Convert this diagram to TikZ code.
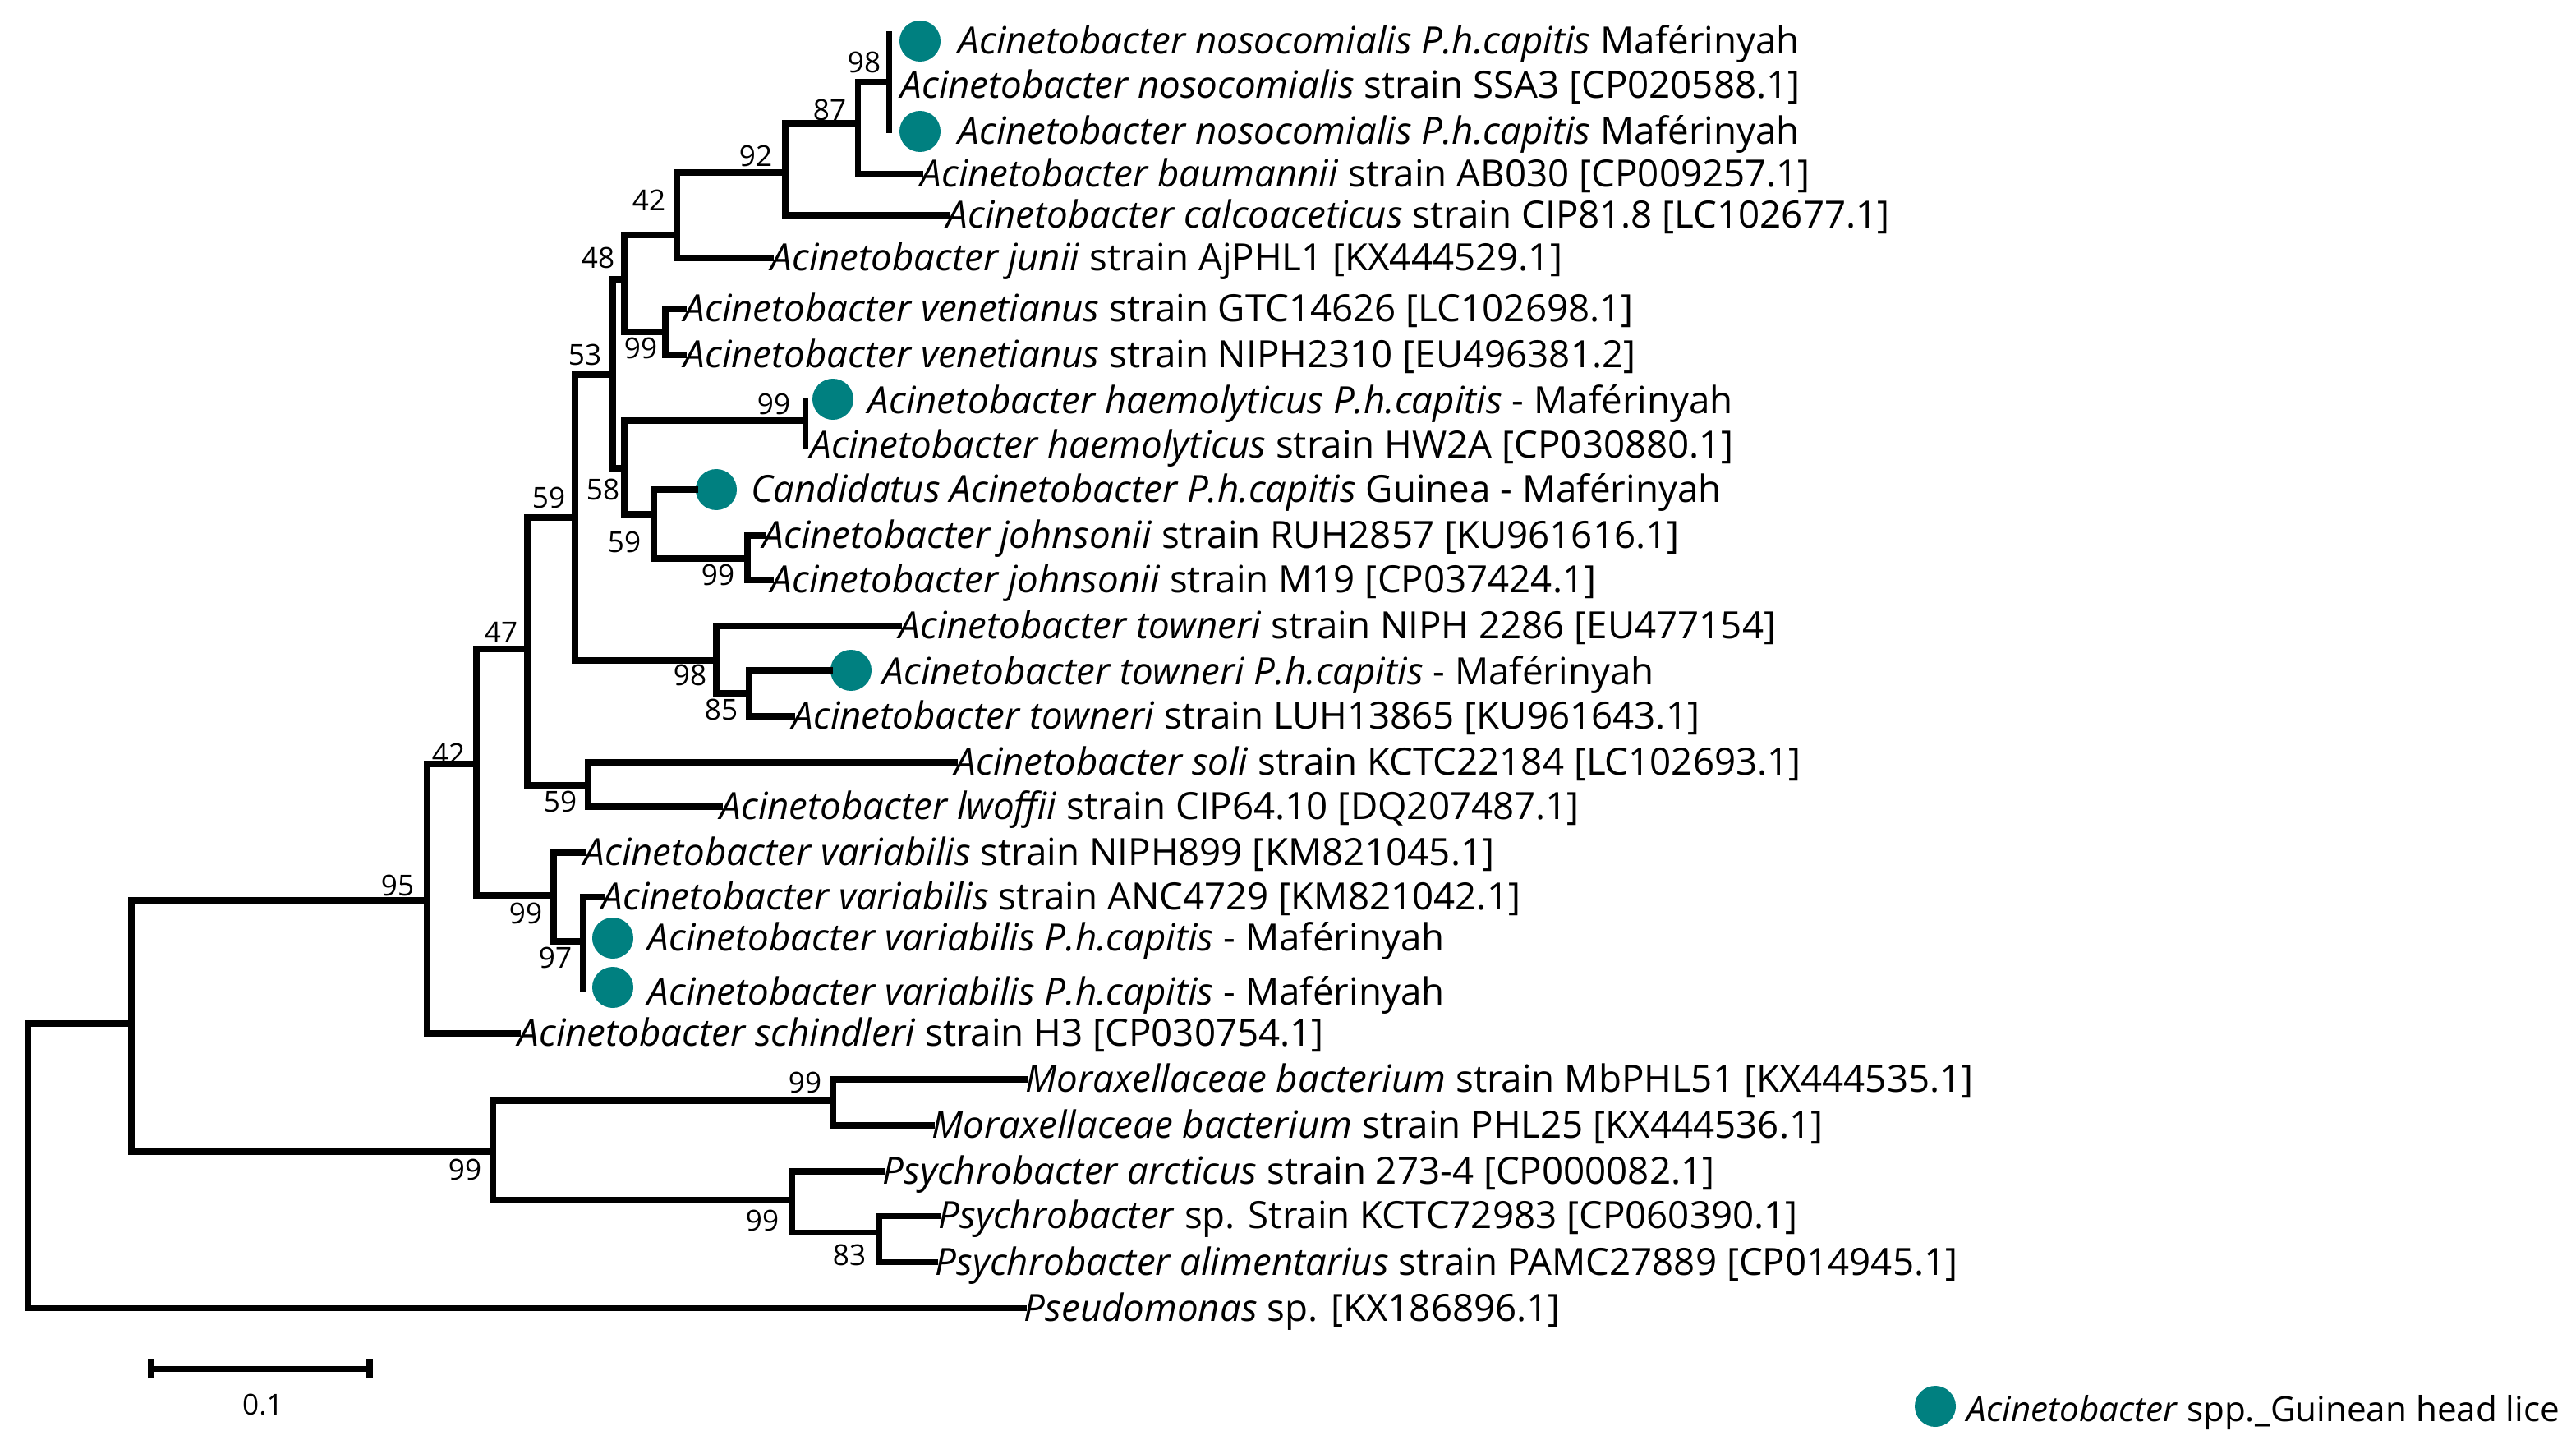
\documentclass[tikz,border=0pt]{standalone}
\usepackage{fontspec}
\setmainfont{Open Sans}
\usepackage{tikz}
\usetikzlibrary{positioning}
\definecolor{liceteal}{RGB}{0,128,128}
\newcommand{\gn}[1]{\textit{#1}}

\begin{document}
\begin{tikzpicture}[x=0.02cm,y=-0.02cm]
		\tikzstyle{branch}=[line width=2pt, line cap=rect]
		\tikzstyle{leaf}=[anchor=west, inner sep=0pt, text height=2ex, text depth=.3ex, font=\fontsize{13}{15}\selectfont]
		\tikzstyle{dot}=[circle, fill=liceteal, minimum size=0.5cm, inner sep=0pt]
		\tikzstyle{boot}=[inner sep=0pt, font=\fontsize{10}{12}\selectfont]

		\useasboundingbox (0,0) rectangle (1568,885);

		% inner nodes of the tree
		\coordinate (root) at (17,700);
		\coordinate (n1) at (80,623);
		\coordinate (n95) at (260,548);
		\coordinate (n42) at (290,465);
		\coordinate (n47) at (321,395);
		\coordinate (n59s) at (358,478);
		\coordinate (n59t) at (350,315);
		\coordinate (ntow) at (436,402);
		\coordinate (n85) at (456,422);
		\coordinate (n53) at (373,228);
		\coordinate (n48) at (380,170);
		\coordinate (nven) at (405,202);
		\coordinate (n42b) at (412,143);
		\coordinate (n92) at (478,105);
		\coordinate (n87) at (522,75);
		\coordinate (n98) at (541,50);
		\coordinate (n58) at (380,285);
		\coordinate (nhae) at (490,256);
		\coordinate (n59b) at (398,313);
		\coordinate (njoh) at (455,340);
		\coordinate (n99v) at (337,545);
		\coordinate (n97) at (355,573);
		\coordinate (n99l) at (300,701);
		\coordinate (nmor) at (507,670);
		\coordinate (npsy) at (482,730);
		\coordinate (n83) at (535,750);

		% leaves
		\node [dot] (d1) at (560,25) {};
		\node [leaf] (l1) at (583,25) {\gn{Acinetobacter nosocomialis P.h.capitis} Maférinyah};
		\node [leaf] (l2) at (548,52) {\gn{Acinetobacter nosocomialis} strain SSA3 [CP020588.1]};
		\node [dot] (d3) at (560,80) {};
		\node [leaf] (l3) at (583,80) {\gn{Acinetobacter nosocomialis P.h.capitis} Maférinyah};
		\node [leaf] (l4) at (560,106) {\gn{Acinetobacter baumannii} strain AB030 [CP009257.1]};
		\node [leaf] (l5) at (576,131) {\gn{Acinetobacter calcoaceticus} strain CIP81.8 [LC102677.1]};
		\node [leaf] (l6) at (469,157) {\gn{Acinetobacter junii} strain AjPHL1 [KX444529.1]};
		\node [leaf] (l7) at (416,188) {\gn{Acinetobacter venetianus} strain GTC14626 [LC102698.1]};
		\node [leaf] (l8) at (416,216) {\gn{Acinetobacter venetianus} strain NIPH2310 [EU496381.2]};
		\node [dot] (d9) at (507,243) {};
		\node [leaf] (l9) at (528,244) {\gn{Acinetobacter haemolyticus P.h.capitis} - Maférinyah};
		\node [leaf] (l10) at (493,271) {\gn{Acinetobacter haemolyticus} strain HW2A [CP030880.1]};
		\node [dot] (d11) at (436,298) {};
		\node [leaf] (l11) at (457,298) {\gn{Candidatus Acinetobacter P.h.capitis} Guinea - Maférinyah};
		\node [leaf] (l12) at (464,326) {\gn{Acinetobacter johnsonii} strain RUH2857 [KU961616.1]};
		\node [leaf] (l13) at (469,353) {\gn{Acinetobacter johnsonii} strain M19 [CP037424.1]};
		\node [leaf] (l14) at (547,381) {\gn{Acinetobacter towneri} strain NIPH 2286 [EU477154]};
		\node [dot] (d15) at (518,408) {};
		\node [leaf] (l15) at (537,409) {\gn{Acinetobacter towneri P.h.capitis} - Maférinyah};
		\node [leaf] (l16) at (482,436) {\gn{Acinetobacter towneri} strain LUH13865 [KU961643.1]};
		\node [leaf] (l17) at (581,464) {\gn{Acinetobacter soli} strain KCTC22184 [LC102693.1]};
		\node [leaf] (l18) at (438,491) {\gn{Acinetobacter lwoffii} strain CIP64.10 [DQ207487.1]};
		\node [leaf] (l19) at (355,519) {\gn{Acinetobacter variabilis} strain NIPH899 [KM821045.1]};
		\node [leaf] (l20) at (366,546) {\gn{Acinetobacter variabilis} strain ANC4729 [KM821042.1]};
		\node [dot] (d21) at (373,571) {};
		\node [leaf] (l21) at (394,571) {\gn{Acinetobacter variabilis P.h.capitis} - Maférinyah};
		\node [dot] (d22) at (373,601) {};
		\node [leaf] (l22) at (394,604) {\gn{Acinetobacter variabilis P.h.capitis} - Maférinyah};
		\node [leaf] (l23) at (315,629) {\gn{Acinetobacter schindleri} strain H3 [CP030754.1]};
		\node [leaf] (l24) at (624,657) {\gn{Moraxellaceae bacterium} strain MbPHL51 [KX444535.1]};
		\node [leaf] (l25) at (567,685) {\gn{Moraxellaceae bacterium} strain PHL25 [KX444536.1]};
		\node [leaf] (l26) at (537,713) {\gn{Psychrobacter arcticus} strain 273-4 [CP000082.1]};
		\node [leaf] (l27) at (571,740) {\gn{Psychrobacter} sp. Strain KCTC72983 [CP060390.1]};
		\node [leaf] (l28) at (569,768) {\gn{Psychrobacter alimentarius} strain PAMC27889 [CP014945.1]};
		\node [leaf] (l29) at (623,796) {\gn{Pseudomonas} sp. [KX186896.1]};

		% branches
		\draw [branch] (root) |- (n1);
		\draw [branch] (root) |- (l29.west);
		\draw [branch] (n1) |- (n95);
		\draw [branch] (n1) |- (n99l);
		\draw [branch] (n95) |- (n42);
		\draw [branch] (n95) |- (l23.west);
		\draw [branch] (n42) |- (n47);
		\draw [branch] (n42) |- (n99v);
		\draw [branch] (n47) |- (n59t);
		\draw [branch] (n47) |- (n59s);
		\draw [branch] (n59s) |- (l17.west);
		\draw [branch] (n59s) |- (l18.west);
		\draw [branch] (n59t) |- (n53);
		\draw [branch] (n59t) |- (ntow);
		\draw [branch] (ntow) |- (l14.west);
		\draw [branch] (ntow) |- (n85);
		\draw [branch] (n85) |- (d15.west);
		\draw [branch] (n85) |- (l16.west);
		\draw [branch] (n53) |- (n48);
		\draw [branch] (n53) |- (n58);
		\draw [branch] (n48) |- (n42b);
		\draw [branch] (n48) |- (nven);
		\draw [branch] (nven) |- (l7.west);
		\draw [branch] (nven) |- (l8.west);
		\draw [branch] (n42b) |- (n92);
		\draw [branch] (n42b) |- (l6.west);
		\draw [branch] (n92) |- (n87);
		\draw [branch] (n92) |- (l5.west);
		\draw [branch] (n87) |- (n98);
		\draw [branch] (n87) |- (l4.west);
		\draw [branch] (n98) -- (541,21);
		\draw [branch] (n98) -- (541,79);
		\draw [branch] (n58) |- (nhae);
		\draw [branch] (n58) |- (n59b);
		\draw [branch] (nhae) -- (490,244);
		\draw [branch] (nhae) -- (490,271);
		\draw [branch] (n59b) |- (d11.west);
		\draw [branch] (n59b) |- (njoh);
		\draw [branch] (njoh) |- (l12.west);
		\draw [branch] (njoh) |- (l13.west);
		\draw [branch] (n99v) |- (l19.west);
		\draw [branch] (n99v) |- (n97);
		\draw [branch] (n97) |- (l20.west);
		\draw [branch] (n97) -- (355,602);
		\draw [branch] (n99l) |- (nmor);
		\draw [branch] (n99l) |- (npsy);
		\draw [branch] (nmor) |- (l24.west);
		\draw [branch] (nmor) |- (l25.west);
		\draw [branch] (npsy) |- (l26.west);
		\draw [branch] (npsy) |- (n83);
		\draw [branch] (n83) |- (l27.west);
		\draw [branch] (n83) |- (l28.west);

		% bootstrap values
		\node [boot] (b95) at (242,539) {95};
		\node [boot] (b99l) at (283,712) {99};
		\node [boot] (b42) at (273,459) {42};
		\node [boot] (b47) at (305,385) {47};
		\node [boot] (b99v) at (320,556) {99};
		\node [boot] (b97) at (338,583) {97};
		\node [boot] (b59t) at (334,303) {59};
		\node [boot] (b59s) at (341,488) {59};
		\node [boot] (b53) at (356,216) {53};
		\node [boot] (b98t) at (420,411) {98};
		\node [boot] (b85) at (439,432) {85};
		\node [boot] (b48) at (364,157) {48};
		\node [boot] (b58) at (367,298) {58};
		\node [boot] (b99ven) at (390,212) {99};
		\node [boot] (b42b) at (395,122) {42};
		\node [boot] (b92) at (460,95) {92};
		\node [boot] (b87) at (505,67) {87};
		\node [boot] (b98) at (526,38) {98};
		\node [boot] (b99h) at (471,246) {99};
		\node [boot] (b59b) at (380,330) {59};
		\node [boot] (b99j) at (437,350) {99};
		\node [boot] (b99m) at (490,659) {99};
		\node [boot] (b99p) at (464,743) {99};
		\node [boot] (b83) at (517,764) {83};

		% scale bar
		\coordinate (s0) at (92,833);
		\coordinate (s1) at (225,833);
		\draw [branch, line cap=butt] (s0) -- (s1);
		\draw [branch, line cap=butt] ([yshift=-6*0.02cm]s0) -- ([yshift=6*0.02cm]s0);
		\draw [branch, line cap=butt] ([yshift=-6*0.02cm]s1) -- ([yshift=6*0.02cm]s1);
		\node [boot] (sl) at (160,855) {0.1};

		% legend
		\node [dot] (ld) at (1178,856) {};
		\node [leaf, font=\fontsize{12}{14}\selectfont] (lt) at (1197,857) {\gn{Acinetobacter} spp.\_Guinean head lice};
	\end{tikzpicture}
\end{document}
